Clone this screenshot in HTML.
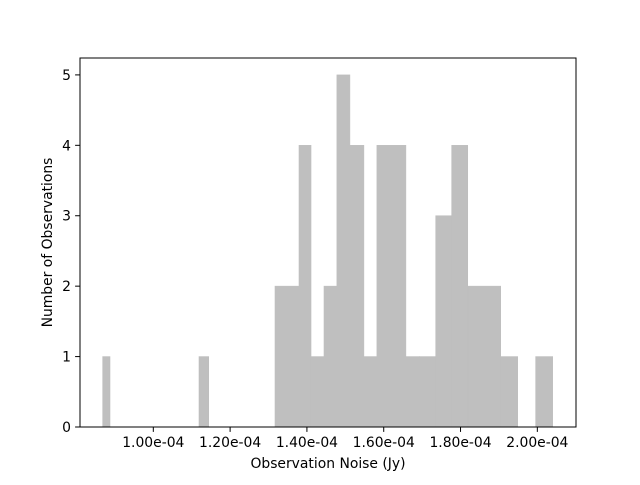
<!DOCTYPE html>
<html><head><meta charset="utf-8"><style>
body{margin:0;background:#fff}
svg text{font-family:"DejaVu Sans","Liberation Sans",sans-serif;font-size:13.9px;fill:#000}
</style></head><body>
<svg id="chart" width="640" height="480" xmlns="http://www.w3.org/2000/svg">
<rect width="640" height="480" fill="#fff"/>
<g id="bars"></g>
<g id="axes"></g>
</svg>
<script>
// values in units of 1e-6 Jy
const binLefts  = [86.82,111.90,131.69,137.94,141.07,144.45,147.80,151.19,154.83,158.22,165.77,169.37,173.54,177.70,181.87,190.46,199.57];
const binRights = [88.72,114.43,137.94,141.07,144.45,147.80,151.19,154.83,158.22,165.77,169.37,173.54,177.70,181.87,190.46,194.89,204.00];
const counts    = [1,1,2,4,1,2,5,4,1,4,1,1,3,4,2,1,1];
const xTicks = [100,120,140,160,180,200];
const xTickLabels = ["1.00e-04","1.20e-04","1.40e-04","1.60e-04","1.80e-04","2.00e-04"];
const yTicks = [0,1,2,3,4,5];

const L=80,R=576,T=58,B=427;
const xMin=80.91,xMax=210.07,yMin=0,yMax=5.24;
const X=v=>L+(v-xMin)/(xMax-xMin)*(R-L);
const Y=v=>B-(v-yMin)/(yMax-yMin)*(B-T);
const NS="http://www.w3.org/2000/svg";
function mk(tag,attrs,parent){const e=document.createElementNS(NS,tag);for(const k in attrs)e.setAttribute(k,attrs[k]);parent.appendChild(e);return e;}
const bars=document.getElementById('bars'),axes=document.getElementById('axes');
counts.forEach((c,i)=>{
  const r=mk('rect',{x:X(binLefts[i]),y:Y(c),width:X(binRights[i])-X(binLefts[i]),height:Y(0)-Y(c),fill:'#bfbfbf',stroke:'#bfbfbf','stroke-width':0.6},bars);
  
  
});
const frame=mk('rect',{x:L,y:T,width:R-L,height:B-T,fill:'none',stroke:'#000','stroke-width':1},axes);


xTicks.forEach((t,i)=>{
  const x=X(t);
  mk('line',{x1:x,x2:x,y1:B,y2:B+4.9,stroke:'#000'},axes);
  const tx=mk('text',{x:x,y:B+20,'text-anchor':'middle'},axes);
  tx.textContent=xTickLabels[i];
  
  
});
yTicks.forEach(t=>{
  const y=Y(t);
  mk('line',{x1:L-4.9,x2:L,y1:y,y2:y,stroke:'#000'},axes);
  const tx=mk('text',{x:L-9,y:y+5,'text-anchor':'end'},axes);
  tx.textContent=t;
  
  
});
const xt=mk('text',{x:(L+R)/2,y:468,'text-anchor':'middle'},axes);
xt.textContent='Observation Noise (Jy)';


const yt=mk('text',{x:0,y:0,'text-anchor':'middle',transform:`translate(52,${(T+B)/2}) rotate(-90)`},axes);
yt.textContent='Number of Observations';


</script>
</body></html>
